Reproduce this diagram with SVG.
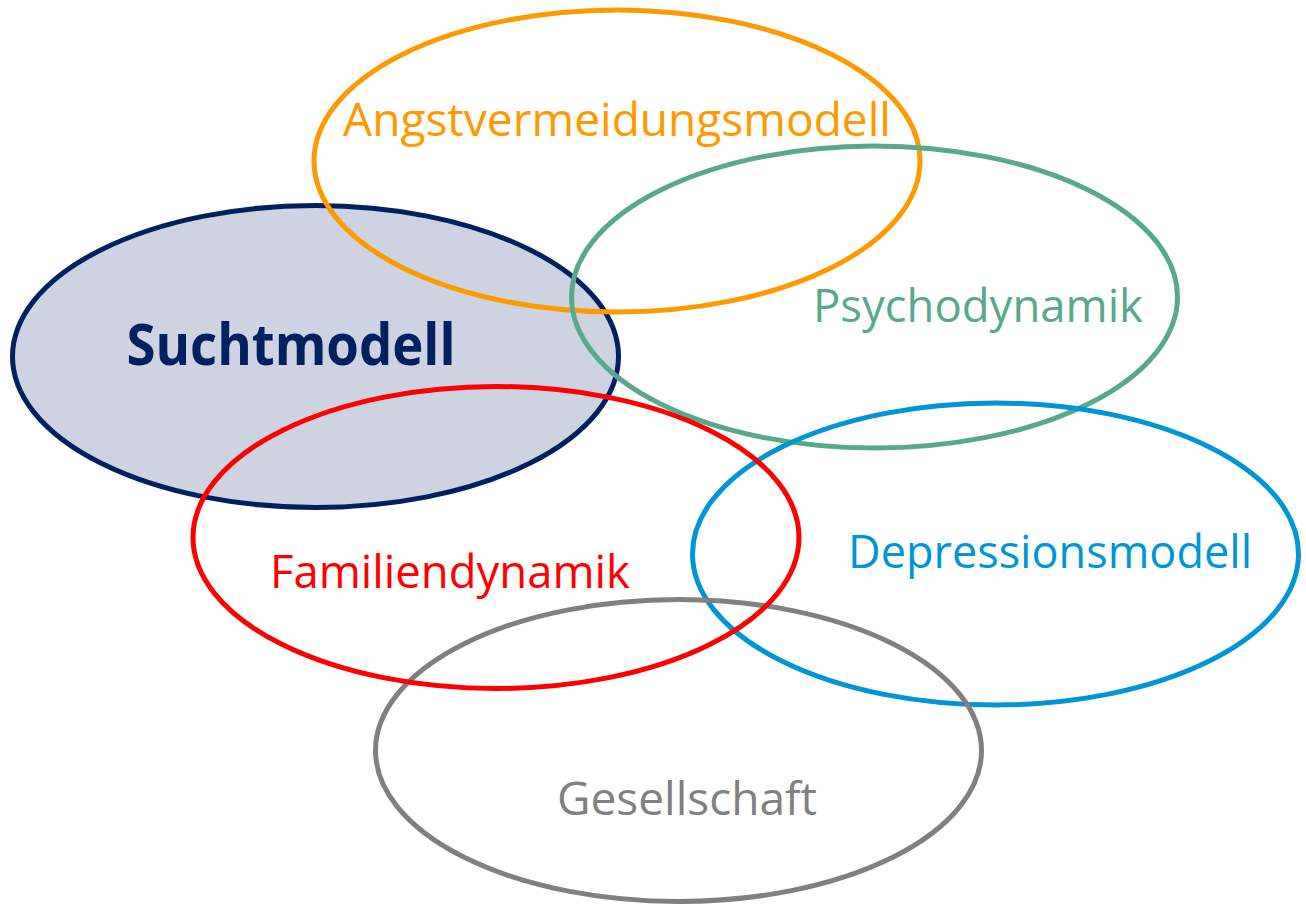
<svg xmlns="http://www.w3.org/2000/svg" width="1306" height="909" viewBox="0 0 1306 909">
<style>
.e{fill:none;stroke-width:5}
.t{font-family:"Open Sans","Noto Sans","Liberation Sans",sans-serif;font-size:46px;text-anchor:middle}
.b{font-size:57px;font-weight:bold}
</style>
<rect width="1306" height="909" fill="#fff"/>
<g id="sucht">
<ellipse cx="315.5" cy="356.5" rx="303" ry="151" fill="#CDD3E0" stroke="#002060" stroke-width="5"/>
<text class="t b" x="291" y="365" fill="#002060" textLength="329" lengthAdjust="spacingAndGlyphs">Suchtmodell</text>
</g>
<g id="angst">
<ellipse class="e" cx="617" cy="161" rx="303" ry="151" stroke="#FF9900"/>
<text class="t" x="617" y="136" fill="#FF9900" textLength="548" lengthAdjust="spacingAndGlyphs">Angstvermeidungsmodell</text>
</g>
<g id="psycho">
<ellipse class="e" cx="874.5" cy="297" rx="303" ry="151" stroke="#58A98B"/>
<text class="t" x="978" y="322" fill="#58A98B" textLength="330" lengthAdjust="spacingAndGlyphs">Psychodynamik</text>
</g>
<g id="depression">
<ellipse class="e" cx="995.5" cy="554" rx="303" ry="151" stroke="#0096D6"/>
<text class="t" x="1050" y="568" fill="#0096D6" textLength="404" lengthAdjust="spacingAndGlyphs">Depressionsmodell</text>
</g>
<g id="gesellschaft">
<ellipse class="e" cx="678.5" cy="750.5" rx="303" ry="151" stroke="#808080"/>
<text class="t" x="687" y="815" fill="#808080" textLength="260" lengthAdjust="spacingAndGlyphs">Gesellschaft</text>
</g>
<g id="familie">
<ellipse class="e" cx="496" cy="537.5" rx="303" ry="151" stroke="#FF0000"/>
<text class="t" x="450" y="588" fill="#FF0000" textLength="360" lengthAdjust="spacingAndGlyphs">Familiendynamik</text>
</g>
<g id="connectors"/>
</svg>
